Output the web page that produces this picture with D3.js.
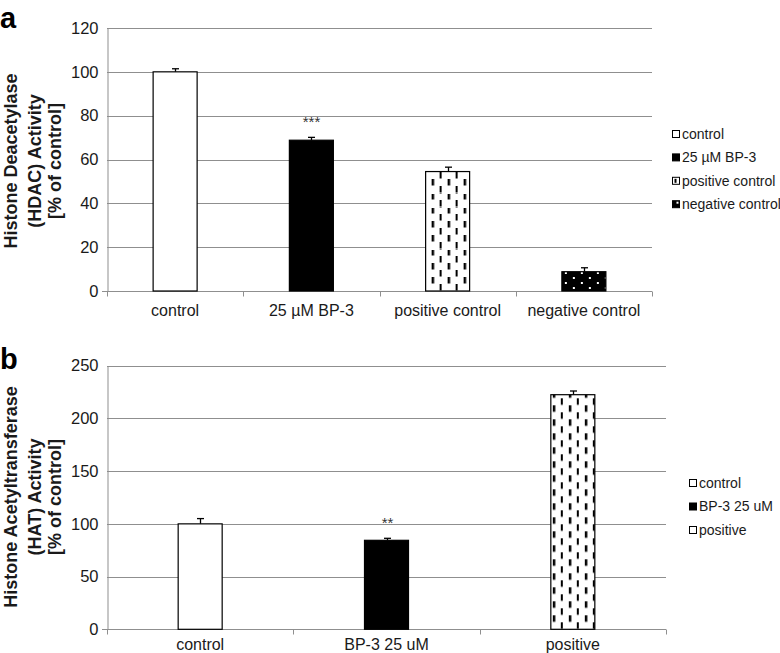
<!DOCTYPE html>
<html>
<head>
<meta charset="utf-8">
<script src="https://cdn.jsdelivr.net/npm/d3@7"></script>
<style>
    body { margin: 0; background: #fff; }
    svg { display: block; font-family: "Liberation Sans", Arial, sans-serif; }
</style>
</head>
<body>
<svg id="viz" width="780" height="653"></svg>
<script>
// panel a: HDAC
let hdacCategories = ['control', '25 µM BP-3', 'positive control', 'negative control']
let hdacValues = [100, 68.8, 54.5, 8.8]
let hdacErrors = [1.4, 1.3, 2.0, 1.8]
let hdacSig = ['', '***', '', '']
let hdacFills = ['white', 'black', 'dashes', 'dots']
let hdacTicks = [0, 20, 40, 60, 80, 100, 120]
let hdacTitle = ['Histone Deacetylase', '(HDAC) Activity', '[% of control]']

// panel b: HAT
let hatCategories = ['control', 'BP-3 25 uM', 'positive']
let hatValues = [100, 84.4, 222.5]
let hatErrors = [5, 1.9, 3.5]
let hatSig = ['', '**', '']
let hatFills = ['white', 'black', 'dashes']
let hatLegendFills = ['white', 'black', 'white']
let hatTicks = [0, 50, 100, 150, 200, 250]
let hatTitle = ['Histone Acetyltransferase', '(HAT) Activity', '[% of control]']

let gridColor = '#8f8f8f'
let textColor = '#1a1a1a'

let svg = d3.select('#viz')
let defs = svg.append('defs')

function makePattern(id, kind, x0, y0) {
    let p = defs.append('pattern')
        .attr('id', id)
        .attr('patternUnits', 'userSpaceOnUse')
    if (kind === 'dashes') {
        p.attr('width', 16).attr('height', 14).attr('x', x0).attr('y', y0)
        p.append('rect').attr('width', 16).attr('height', 14).attr('fill', '#fff')
        p.append('rect').attr('x', 6).attr('y', 0).attr('width', 2.5).attr('height', 6.5).attr('fill', '#000')
        p.append('rect').attr('x', 14).attr('y', 7).attr('width', 2.5).attr('height', 6.5).attr('fill', '#000')
    } else {
        p.attr('width', 16).attr('height', 10).attr('x', x0).attr('y', y0)
        p.append('rect').attr('width', 16).attr('height', 10).attr('fill', '#000')
        p.append('rect').attr('x', 3).attr('y', 1).attr('width', 2).attr('height', 2).attr('fill', '#fff')
        p.append('rect').attr('x', 11).attr('y', 6).attr('width', 2).attr('height', 2).attr('fill', '#fff')
    }
}

function drawPanel(cfg) {
    let g = svg.append('g').classed('panel-' + cfg.label, true)

    let x = d3.scaleBand()
        .domain(cfg.categories)
        .range([cfg.left, cfg.right])
        .padding(0)
    let y = d3.scaleLinear()
        .domain([0, d3.max(cfg.ticks)])
        .range([cfg.bottom, cfg.top])

    // grid lines
    g.append('g').selectAll('line')
        .data(cfg.ticks.filter(t => t > 0))
        .join('line')
        .attr('x1', cfg.left).attr('x2', cfg.right)
        .attr('y1', d => Math.round(y(d)) + 0.5).attr('y2', d => Math.round(y(d)) + 0.5)
        .attr('stroke', gridColor)

    // y axis
    let yAxis = g.append('g')
        .attr('transform', 'translate(' + (cfg.left + 0.5) + ',0)')
        .call(d3.axisLeft(y).tickValues(cfg.ticks).tickSize(0).tickPadding(9))
    yAxis.select('.domain').attr('stroke', gridColor)
    yAxis.selectAll('text')
        .attr('font-size', 16.5).attr('fill', textColor)

    // x axis
    let xAxisY = Math.round(y(0)) + 0.5
    g.append('line')
        .attr('x1', cfg.left - 5).attr('x2', cfg.right)
        .attr('y1', xAxisY).attr('y2', xAxisY)
        .attr('stroke', gridColor)
    let bounds = cfg.categories.map(c => x(c)).concat([cfg.right])
    g.append('g').selectAll('line')
        .data(bounds)
        .join('line')
        .attr('x1', d => Math.round(d) + 0.5).attr('x2', d => Math.round(d) + 0.5)
        .attr('y1', xAxisY).attr('y2', xAxisY + 5)
        .attr('stroke', gridColor)
    g.append('g').selectAll('text')
        .data(cfg.categories)
        .join('text')
        .attr('x', d => x(d) + x.bandwidth() / 2)
        .attr('y', cfg.labelY)
        .attr('text-anchor', 'middle')
        .attr('font-size', 16)
        .attr('fill', textColor)
        .text(d => d)

    // bars
    let barW = 44
    cfg.categories.forEach((c, i) => {
        let bx = x(c) + x.bandwidth() / 2 - barW / 2
        let kind = cfg.fills[i]
        let fill = kind
        if (kind === 'dashes' || kind === 'dots') {
            let id = 'pat-' + cfg.label + '-' + i
            makePattern(id, kind, bx + (kind === 'dashes' ? cfg.dashOffset : 0), y(0))
            fill = 'url(#' + id + ')'
        }
        let top = y(cfg.values[i])
        let cx = Math.round(bx + barW / 2) + 0.5
        let errTop = y(cfg.values[i] + cfg.errors[i])
        // error bar (upper only)
        g.append('line')
            .attr('x1', cx).attr('x2', cx)
            .attr('y1', top).attr('y2', errTop)
            .attr('stroke', '#000').attr('stroke-width', 1.3)
        g.append('line')
            .attr('x1', cx - 3.5).attr('x2', cx + 3.5)
            .attr('y1', errTop).attr('y2', errTop)
            .attr('stroke', '#000').attr('stroke-width', 1.3)
        g.append('rect')
            .attr('x', bx).attr('y', top)
            .attr('width', barW).attr('height', y(0) - top)
            .attr('fill', fill)
            .attr('stroke', '#000').attr('stroke-width', 1.2)
        if (cfg.sig[i]) {
            g.append('text')
                .attr('x', cx)
                .attr('y', errTop - 10)
                .attr('text-anchor', 'middle')
                .attr('font-size', 15)
                .attr('fill', '#333')
                .text(cfg.sig[i])
        }
    })

    // y title
    cfg.title.forEach((line, i) => {
        g.append('text')
            .attr('transform', 'translate(' + cfg.titleX[i] + ',' + cfg.titleMid + ') rotate(-90)')
            .attr('text-anchor', 'middle')
            .attr('font-size', 18)
            .attr('font-weight', 'bold')
            .attr('fill', textColor)
            .text(line)
    })

    // panel label
    g.append('text')
        .attr('x', 0).attr('y', cfg.letterY)
        .attr('font-size', 29)
        .attr('font-weight', 'bold')
        .attr('fill', '#000')
        .text(cfg.label)

    // legend
    let lg = g.append('g')
    cfg.categories.forEach((c, i) => {
        let ly = cfg.legendY + i * cfg.legendGap
        let sx = cfg.legendX
        let kind = cfg.legendFills[i]
        lg.append('rect')
            .attr('x', sx + 0.5).attr('y', ly - 3.5)
            .attr('width', 7).attr('height', 7)
            .attr('fill', kind === 'white' || kind === 'dashes' ? '#fff' : '#000')
            .attr('stroke', '#000')
        if (kind === 'dashes') {
            lg.append('rect')
                .attr('x', sx + 2.5).attr('y', ly - 2)
                .attr('width', 2).attr('height', 4).attr('fill', '#000')
        }
        if (kind === 'dots') {
            lg.append('rect')
                .attr('x', sx + 4.5).attr('y', ly - 2.5)
                .attr('width', 2).attr('height', 2).attr('fill', '#fff')
        }
        lg.append('text')
            .attr('x', sx + 10).attr('y', ly)
            .attr('dy', '0.35em')
            .attr('font-size', 14)
            .attr('fill', textColor)
            .text(c)
    })
}

drawPanel({
    label: 'a',
    categories: hdacCategories,
    values: hdacValues,
    errors: hdacErrors,
    sig: hdacSig,
    fills: hdacFills,
    legendFills: hdacFills,
    ticks: hdacTicks,
    title: hdacTitle,
    left: 107, right: 652, top: 28, bottom: 291,
    labelY: 316,
    titleX: [17, 41, 61], titleMid: 161,
    letterY: 28,
    legendX: 672, legendY: 134, legendGap: 23.4,
    dashOffset: 0
})

drawPanel({
    label: 'b',
    categories: hatCategories,
    values: hatValues,
    errors: hatErrors,
    sig: hatSig,
    fills: hatFills,
    legendFills: hatLegendFills,
    ticks: hatTicks,
    title: hatTitle,
    left: 107, right: 666, top: 365.7, bottom: 629.3,
    labelY: 650,
    titleX: [17, 41, 61], titleMid: 497,
    letterY: 369,
    legendX: 689, legendY: 483, legendGap: 23.5,
    dashOffset: -4
})
</script>
</body>
</html>
